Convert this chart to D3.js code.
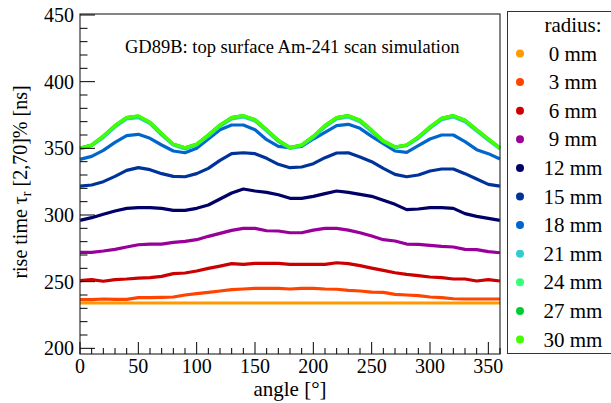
<!DOCTYPE html>
<html>
<head>
<meta charset="utf-8">
<script src="https://cdn.jsdelivr.net/npm/d3@7"></script>
<style>
  body { margin: 0; background: #fff; }
  svg { display: block; font-family: "Liberation Serif", "DejaVu Serif", serif; }
</style>
</head>
<body>
<div id="chart"></div>
<script>
// rise time vs angle, one curve per radius
const angles = [0, 10, 20, 30, 40, 50, 60, 70, 80, 90, 100, 110, 120, 130, 140, 150, 160, 170, 180,
  190, 200, 210, 220, 230, 240, 250, 260, 270, 280, 290, 300, 310, 320, 330, 340, 350, 360];

const radii = ["0 mm", "3 mm", "6 mm", "9 mm", "12 mm", "15 mm", "18 mm", "21 mm", "24 mm", "27 mm", "30 mm"];
const colors = ["#ff9900", "#ff4400", "#cc0000", "#990099", "#000066", "#003399", "#0066cc",
  "#33cccc", "#33ff77", "#00cc33", "#44ff00"];

const r0 = [234, 234, 234, 234, 234, 234, 234, 234, 234, 234, 234, 234, 234, 234, 234, 234, 234, 234, 234,
  234, 234, 234, 234, 234, 234, 234, 234, 234, 234, 234, 234, 234, 234, 234, 234, 234, 234];
const r3 = [236.5, 236.5, 237, 236.7, 236.7, 238, 238, 238.2, 238.5, 240, 241, 242, 243, 244, 244.5, 245, 245, 245, 244.5,
  245, 245, 244.5, 244.3, 243.5, 243, 242.2, 242, 240.5, 240, 239.5, 238.5, 238, 237.2, 237, 237, 237, 237];
const r6 = [250.8, 251.5, 250.3, 251.5, 252, 252.7, 253, 254, 256, 256.5, 258, 260, 261.7, 263.5, 263, 263.7, 263.7, 263.7, 263,
  263, 263, 263, 264.2, 263.5, 262, 260.2, 258.5, 256.7, 255.5, 254.5, 253.5, 253, 252, 252, 250.5, 251.5, 250.5];
const r9 = [272, 272, 273, 274.2, 276, 277.7, 278.2, 278.2, 279.5, 280.2, 281.5, 284, 286.2, 288.5, 290, 290, 288.2, 288, 286.7,
  286.7, 288.7, 290, 290, 288.7, 286.7, 284.2, 281.5, 280.5, 278.2, 278, 277.2, 276.5, 276, 274.2, 274, 272.5, 271.7];
const r12 = [296, 298, 300.5, 303, 305, 305.5, 305.5, 305, 303.5, 303.5, 305, 307.5, 312, 316.5, 319.5, 318, 317, 315.2, 312.5,
  312.5, 314, 316, 318, 317, 315.5, 314, 311, 308, 304, 304.5, 305.5, 305.5, 305, 301, 299, 297.5, 296];
const r15 = [321.7, 322.5, 325, 329, 333.5, 335.5, 334, 331, 329, 328.7, 331, 335, 341, 346, 346.7, 346, 342.5, 338, 335.5,
  336, 338.5, 343, 346.5, 346.7, 343.5, 340, 335, 330.5, 328.7, 330, 333, 334.5, 334.5, 331, 327, 323, 321.7];
const r18 = [341.7, 344, 348.5, 354.5, 359.5, 360.5, 357.5, 352.5, 348, 346.7, 350, 357, 364, 367.5, 367.5, 364, 356.5, 351.5, 350.5,
  351.5, 357, 362, 367, 368, 365, 359, 353.5, 348, 347, 352, 357, 360, 360, 355, 349, 346, 342];
const r21 = [349.5, 352, 358, 366, 372, 373, 368.5, 360, 352.5, 349.5, 352.5, 359, 366.5, 372, 373.5, 370.5, 363, 355, 350,
  352, 358, 366, 372, 373.5, 370, 362.5, 355, 350.5, 352, 357.5, 365, 371.5, 373.5, 370, 363, 356, 349.5];
const r24 = [350, 352.5, 359, 367, 373, 374, 369.5, 361, 353, 350.5, 353, 360, 367.5, 373, 374.3, 371.5, 364, 356, 350.5,
  352.5, 359, 367, 373, 374.3, 371, 363.5, 355.5, 351, 352.5, 358.5, 366, 372.5, 374.3, 371, 364, 357, 350];
const r27 = [350.2, 352.5, 359.2, 367, 373, 374.2, 369.5, 361, 353, 350.5, 353, 360, 367.5, 373, 374.5, 371.5, 364, 356, 350.5,
  352.5, 359, 367, 373, 374.5, 371, 363.5, 355.5, 351, 352.5, 358.5, 366, 372.5, 374.5, 371, 364, 357, 350.2];
const r30 = [350, 352.5, 359, 367, 373, 374.3, 369.5, 361, 353, 350.5, 353, 360, 367.5, 373, 374.5, 371.5, 364, 356, 350.5,
  352.5, 359, 367, 373, 374.5, 371, 363.5, 355.5, 351, 352.5, 358.5, 366, 372.5, 374.5, 371, 364, 357, 350];

const seriesValues = [r0, r3, r6, r9, r12, r15, r18, r21, r24, r27, r30];

const xTicks = [0, 50, 100, 150, 200, 250, 300, 350];
const yTicks = [200, 250, 300, 350, 400, 450];

const width = 611;
const height = 403;
const plot = { left: 80, right: 500, top: 14, bottom: 354 };

const svg = d3.select("#chart").append("svg")
    .attr("width", width)
    .attr("height", height);

const x = d3.scaleLinear().domain([0, 360]).range([plot.left, plot.right]);
const y = d3.scaleLinear().domain([195.75, 450.75]).range([plot.bottom, plot.top]);

// curves
const line = d3.line()
    .x((d, i) => x(angles[i]))
    .y(d => y(d));

svg.append("g")
    .attr("fill", "none")
    .attr("stroke-width", 3.2)
    .attr("stroke-linejoin", "round")
    .selectAll("path")
    .data(seriesValues)
    .join("path")
    .attr("stroke", (d, i) => colors[i])
    .attr("d", line);

// frame
svg.append("rect")
    .attr("x", plot.left)
    .attr("y", plot.top)
    .attr("width", plot.right - plot.left)
    .attr("height", plot.bottom - plot.top)
    .attr("fill", "none")
    .attr("stroke", "#333")
    .attr("stroke-width", 1.2);

// y axis ticks (inside, ROOT style)
const yMinor = d3.range(200, 451, 10);
svg.append("g")
    .selectAll("line")
    .data(yMinor)
    .join("line")
    .attr("x1", plot.left)
    .attr("x2", d => plot.left + (d % 50 === 0 ? 15 : 7.5))
    .attr("y1", d => y(d))
    .attr("y2", d => y(d))
    .attr("stroke", "#000")
    .attr("stroke-width", 1);

svg.append("g")
    .selectAll("text")
    .data(yTicks)
    .join("text")
    .attr("x", plot.left - 6)
    .attr("y", d => y(d) + 7)
    .attr("text-anchor", "end")
    .style("font-size", "20px")
    .text(d => d);

// x axis ticks
const xMinor = d3.range(0, 361, 10);
svg.append("g")
    .selectAll("line")
    .data(xMinor)
    .join("line")
    .attr("x1", d => x(d))
    .attr("x2", d => x(d))
    .attr("y1", plot.bottom)
    .attr("y2", d => plot.bottom - (d % 50 === 0 ? 12 : 6))
    .attr("stroke", "#000")
    .attr("stroke-width", 1);

svg.append("g")
    .selectAll("text")
    .data(xTicks)
    .join("text")
    .attr("x", d => x(d))
    .attr("y", 373)
    .attr("text-anchor", "middle")
    .style("font-size", "20px")
    .text(d => d);

// axis titles
svg.append("text")
    .attr("x", 290)
    .attr("y", 396)
    .attr("text-anchor", "middle")
    .style("font-size", "21px")
    .text("angle [°]");

const yTitle = svg.append("text")
    .attr("transform", "translate(27,182) rotate(-90)")
    .attr("text-anchor", "middle")
    .style("font-size", "20px");
yTitle.append("tspan").text("rise time τ");
yTitle.append("tspan").attr("dy", 4).style("font-size", "14px").text("r");
yTitle.append("tspan").attr("dy", -4).text(" [2,70]% [ns]");

// title
svg.append("text")
    .attr("x", 125)
    .attr("y", 53)
    .style("font-size", "18.5px")
    .text("GD89B: top surface Am-241 scan simulation");

// legend
const legend = svg.append("g");
legend.append("rect")
    .attr("x", 507.5)
    .attr("y", 11.5)
    .attr("width", 110)
    .attr("height", 342)
    .attr("fill", "#fff")
    .attr("stroke", "#333")
    .attr("stroke-width", 1);

legend.append("text")
    .attr("x", 573)
    .attr("y", 32)
    .attr("text-anchor", "middle")
    .style("font-size", "21px")
    .text("radius:");

const items = legend.selectAll("g.item")
    .data(radii)
    .join("g")
    .attr("class", "item")
    .attr("transform", (d, i) => `translate(0,${53.5 + i * 28.6})`);

items.append("circle")
    .attr("cx", 520)
    .attr("cy", 0)
    .attr("r", 4)
    .attr("fill", (d, i) => colors[i]);

items.append("text")
    .attr("x", 573)
    .attr("y", 7)
    .attr("text-anchor", "middle")
    .style("font-size", "21px")
    .text(d => d);
</script>
</body>
</html>
